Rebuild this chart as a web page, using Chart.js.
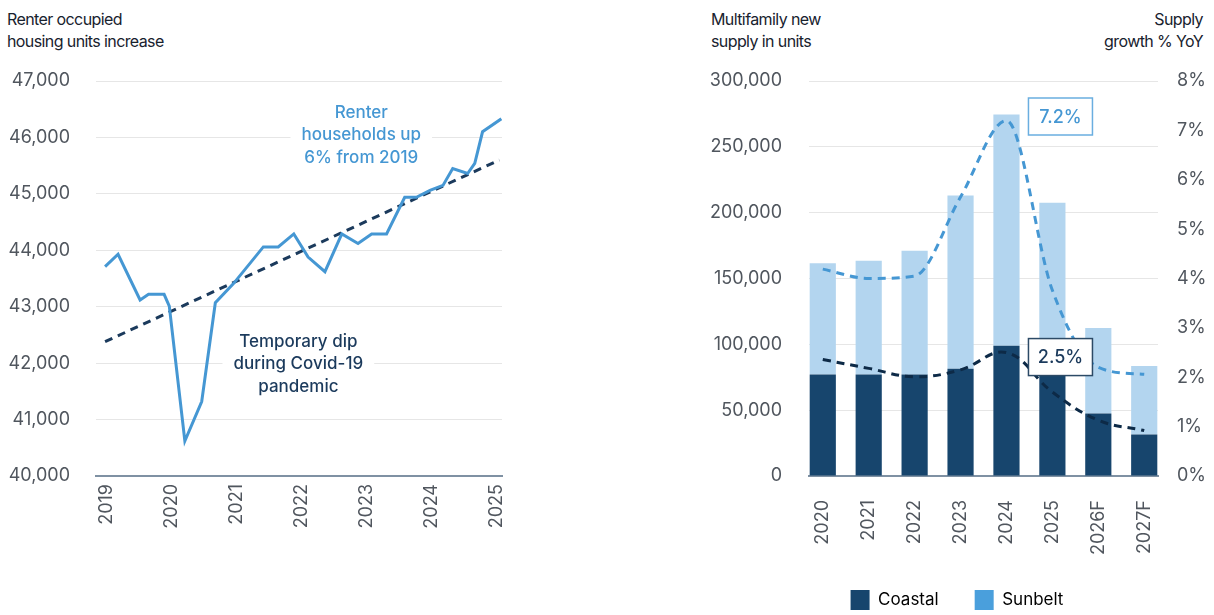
<!DOCTYPE html>
<html>
<head>
<meta charset="utf-8">
<script src="https://cdn.jsdelivr.net/npm/chart.js@4.4.1/dist/chart.umd.min.js"></script>
<style>
  html, body { margin: 0; padding: 0; background: #fff; overflow: hidden; }
  body { width: 1214px; height: 615px; position: relative; font-family: Inter, sans-serif; color: #18222e; }
  .title { position: absolute; top: 8px; font-size: 16px; line-height: 22px; letter-spacing: -0.6px; }
  .panel { position: absolute; }
</style>
</head>
<body>
<div class="title" style="left:7px">Renter occupied<br>housing units increase</div>
<div class="title" style="left:711px">Multifamily new<br>supply in units</div>
<div class="title" style="right:11px;text-align:right">Supply<br>growth % YoY</div>
<div class="panel" style="left:0;top:60px"><canvas id="renters" width="520" height="500"></canvas></div>
<div class="panel" style="left:700px;top:60px"><canvas id="supply" width="514" height="560"></canvas></div>
<script>
// renter occupied housing units (thousands), read per period as decimal years
const renterPeriods = [2018.97, 2019.17, 2019.51, 2019.64, 2019.88, 2019.96, 2020.20, 2020.46, 2020.67, 2020.95,
  2021.41, 2021.64, 2021.88, 2022.10, 2022.36, 2022.62, 2022.87, 2023.08, 2023.31, 2023.59, 2023.77,
  2023.98, 2024.18, 2024.33, 2024.56, 2024.67, 2024.79, 2025.08];
const renterUnits = [43710, 43930, 43120, 43220, 43220, 43010, 40620, 41320, 43070, 43410,
  44060, 44060, 44290, 43880, 43620, 44290, 44120, 44290, 44290, 44940, 44940,
  45060, 45150, 45450, 45360, 45540, 46100, 46330];
// linear trend
const trendPeriods = [2018.97, 2025.05];
const trendUnits = [42380, 45600];
const yearTicks = [2019, 2020, 2021, 2022, 2023, 2024, 2025];

// multifamily new supply
const supplyYears = ['2020', '2021', '2022', '2023', '2024', '2025', '2026F', '2027F'];
const coastalUnits = [77000, 77000, 77000, 81500, 99000, 77000, 47500, 31500];
const sunbeltUnits = [84500, 86500, 94000, 131500, 175500, 130500, 65000, 52000];
const coastalGrowth = [2.36, 2.18, 2.01, 2.15, 2.5, 1.70, 1.13, 0.92];
const sunbeltGrowth = [4.19, 4.0, 4.05, 5.65, 7.2, 3.76, 2.2, 2.06];
const calloutIndex = 4;

const NAVY = '#17456d';
const LIGHT = '#b3d5ef';
const BLUE = '#4597d3';
const INK = '#1b3a5c';
const tickFont = { family: 'Inter', size: 18 };
const tickColor = '#50565e';
const gridColor = '#e6e6e6';
const axisColor = '#7f91a3';

Chart.defaults.font.family = 'Inter';
Chart.defaults.animation = false;

// keep tick labels from pushing the plot area inwards
const noPad = s => { s.paddingTop = 0; s.paddingBottom = 0; s.paddingLeft = 0; s.paddingRight = 0; };

// text notes on the renter chart, white backing breaks the grid lines
const renterNotes = [
  { lines: ['Renter', 'households up', '6% from 2019'], x: 2022.92, y: 46040, color: BLUE },
  { lines: ['Temporary dip', 'during Covid-19', 'pandemic'], x: 2021.95, y: 41985, color: INK }
];
const notesPlugin = {
  id: 'notes',
  beforeDatasetsDraw(chart) {
    const { ctx, scales } = chart;
    ctx.save();
    ctx.font = '500 17px Inter';
    ctx.textAlign = 'center';
    ctx.textBaseline = 'middle';
    renterNotes.forEach(n => {
      const cx = scales.x.getPixelForValue(n.x);
      const cy = scales.y.getPixelForValue(n.y);
      n.lines.forEach((line, i) => {
        const ly = cy + (i - 1) * 22.5;
        const w = ctx.measureText(line).width + 22;
        ctx.fillStyle = '#fff';
        ctx.fillRect(cx - w / 2, ly - 10, w, 20);
        ctx.fillStyle = n.color;
        ctx.fillText(line, cx, ly);
      });
    });
    ctx.restore();
  }
};

new Chart(document.getElementById('renters'), {
  type: 'line',
  data: {
    datasets: [{
      data: renterPeriods.map((x, i) => ({ x, y: renterUnits[i] })),
      borderColor: BLUE,
      borderWidth: 3,
      pointRadius: 0,
      tension: 0
    }, {
      data: trendPeriods.map((x, i) => ({ x, y: trendUnits[i] })),
      borderColor: INK,
      borderWidth: 3,
      borderDash: [8, 6],
      pointRadius: 0
    }]
  },
  options: {
    responsive: false,
    events: [],
    layout: { padding: { top: 21, right: 18, left: 0, bottom: 0 } },
    plugins: { legend: { display: false }, tooltip: { enabled: false } },
    scales: {
      x: {
        type: 'linear',
        min: 2018.83,
        max: 2025.09,
        offset: false,
        afterBuildTicks: s => { s.ticks = yearTicks.map(v => ({ value: v })); },
        afterFit: s => { s.height = 84; noPad(s); },
        ticks: { callback: v => String(v), minRotation: 90, maxRotation: 90, padding: 8, font: tickFont, color: tickColor },
        grid: { display: false, drawTicks: false },
        border: { color: axisColor, width: 2 }
      },
      y: {
        min: 40000,
        max: 47000,
        afterFit: s => { s.width = 96; noPad(s); },
        ticks: { stepSize: 1000, padding: 26, font: tickFont, color: tickColor, callback: v => v.toLocaleString('en-US') },
        grid: { color: gridColor, drawTicks: false },
        border: { display: false }
      }
    }
  },
  plugins: [notesPlugin]
});

// boxed growth labels at the 2024 peak
const callouts = [
  { data: sunbeltGrowth, dx: 54, dy: -4, color: BLUE, border: '#6aaee0' },
  { data: coastalGrowth, dx: 54, dy: 4.5, color: INK, border: '#2c4a66' }
];
const calloutPlugin = {
  id: 'callouts',
  afterDatasetsDraw(chart) {
    const { ctx, scales } = chart;
    ctx.save();
    ctx.font = '500 18px Inter';
    ctx.textAlign = 'center';
    ctx.textBaseline = 'middle';
    callouts.forEach(c => {
      const v = c.data[calloutIndex];
      const cx = scales.x.getPixelForValue(calloutIndex) + c.dx;
      const cy = scales.y2.getPixelForValue(v) + c.dy;
      const w = 64, h = 37;
      ctx.fillStyle = '#fff';
      ctx.fillRect(cx - w / 2, cy - h / 2, w, h);
      ctx.strokeStyle = c.border;
      ctx.lineWidth = 1.5;
      ctx.strokeRect(cx - w / 2, cy - h / 2, w, h);
      ctx.fillStyle = c.color;
      ctx.fillText(v.toFixed(1) + '%', cx, cy + 1);
    });
    ctx.restore();
  }
};

const legendNames = ['Coastal', 'Sunbelt'];
const legendColors = [NAVY, '#4a9fdc'];

new Chart(document.getElementById('supply'), {
  type: 'bar',
  data: {
    datasets: [{
      label: 'Coastal',
      data: coastalUnits.map((y, x) => ({ x, y })),
      backgroundColor: NAVY,
      order: 1
    }, {
      label: 'Sunbelt',
      data: sunbeltUnits.map((y, x) => ({ x, y })),
      backgroundColor: LIGHT,
      order: 1
    }, {
      type: 'line',
      label: 'Sunbelt growth',
      yAxisID: 'y2',
      data: sunbeltGrowth.map((y, x) => ({ x, y })),
      borderColor: BLUE,
      borderWidth: 3,
      borderDash: [8, 6],
      pointRadius: 0,
      cubicInterpolationMode: 'monotone',
      order: 0
    }, {
      type: 'line',
      label: 'Coastal growth',
      yAxisID: 'y2',
      data: coastalGrowth.map((y, x) => ({ x, y })),
      borderColor: '#0d2a47',
      borderWidth: 3,
      borderDash: [8, 6],
      pointRadius: 0,
      tension: 0.4,
      order: 0
    }]
  },
  options: {
    responsive: false,
    events: [],
    categoryPercentage: 1,
    barPercentage: 0.57,
    layout: { padding: { top: 21, right: 0, left: 0, bottom: 0 } },
    plugins: {
      tooltip: { enabled: false },
      legend: {
        position: 'bottom',
        labels: {
          boxWidth: 19,
          boxHeight: 20,
          padding: 36,
          color: '#3d4752',
          font: { family: 'Inter', size: 17 },
          generateLabels: () => legendNames.map((text, i) => ({
            text, fillStyle: legendColors[i], strokeStyle: legendColors[i], lineWidth: 0, hidden: false, datasetIndex: i
          }))
        }
      }
    },
    scales: {
      x: {
        type: 'linear',
        min: -0.3,
        max: 7.3,
        offset: false,
        stacked: true,
        afterBuildTicks: s => { s.ticks = supplyYears.map((_, i) => ({ value: i })); },
        afterFit: s => { s.height = s.chart.height - s.chart.legend.height - 416; noPad(s); },
        ticks: { callback: v => supplyYears[v], minRotation: 90, maxRotation: 90, padding: 24, font: tickFont, color: tickColor },
        grid: { display: false, drawTicks: false },
        border: { color: axisColor, width: 2 }
      },
      y: {
        stacked: true,
        min: 0,
        max: 300000,
        afterFit: s => { s.width = 109; noPad(s); },
        ticks: { stepSize: 50000, padding: 27, font: tickFont, color: tickColor, callback: v => v.toLocaleString('en-US') },
        grid: { color: gridColor, drawTicks: false },
        border: { display: false }
      },
      y2: {
        position: 'right',
        min: 0,
        max: 8,
        afterFit: s => { s.width = 56; noPad(s); },
        ticks: { stepSize: 1, padding: 19, font: tickFont, color: tickColor, callback: v => v + '%' },
        grid: { display: false, drawTicks: false },
        border: { display: false }
      }
    }
  },
  plugins: [calloutPlugin]
});
</script>
</body>
</html>
